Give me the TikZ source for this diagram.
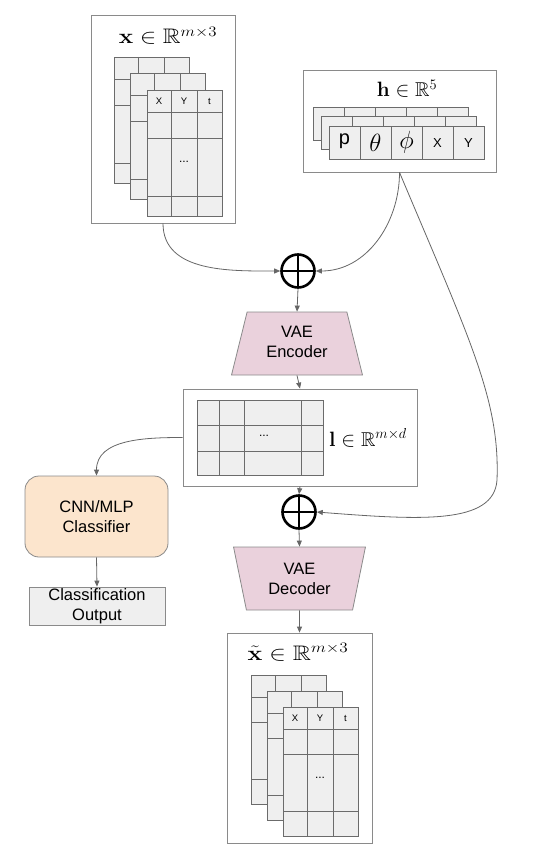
\documentclass[tikz,border=0pt]{standalone}
\usepackage[no-math]{fontspec}
\setmainfont{Liberation Sans}
\usepackage{amsmath,amssymb}
\usetikzlibrary{arrows.meta,shapes.geometric}
\definecolor{cellfill}{HTML}{EFEFEF}
\definecolor{cellline}{HTML}{6B6B6B}
\definecolor{boxline}{HTML}{8A8A8A}
\definecolor{arrgray}{HTML}{666666}
\definecolor{vaefill}{HTML}{EAD1DC}
\definecolor{clsfill}{HTML}{FCE5CD}
\begin{document}
\begin{tikzpicture}[
    x=1pt, y=-1pt,
    frame/.style={rectangle, draw=boxline, fill=white, line width=0.8pt, inner sep=0pt}, % Рамки блоков
    cell/.style={draw=cellline, fill=cellfill, line width=0.8pt}, % Ячейки таблиц
    grid/.style={draw=cellline, line width=0.8pt}, % Линии сетки
    head/.style={inner sep=0pt, font=\fontsize{9.5}{9.5}\selectfont}, % Заголовки столбцов
    title/.style={inner sep=0pt, font=\fontsize{20}{20}\selectfont}, % Формулы
    label/.style={align=center, inner sep=0pt, font=\fontsize{16.5}{20}\selectfont}, % Текст в блоках
    vae/.style={trapezium, draw=boxline, fill=vaefill, line width=0.8pt, trapezium left angle=76.5,
        trapezium right angle=76.5, trapezium stretches=true, minimum width=132pt, minimum height=63pt,
        inner sep=0pt, align=center, font=\fontsize{16.5}{20}\selectfont}, % Кодировщик и декодер
    oplus/.style={circle, draw, line width=2.6pt, minimum size=33pt, inner sep=0pt,
        path picture={\draw[line width=2.6pt] (path picture bounding box.north) -- (path picture bounding box.south)
        (path picture bounding box.west) -- (path picture bounding box.east);}}, % Сумматор
    arr/.style={draw=arrgray, line width=0.8pt, -{Triangle[length=6pt,width=5pt]}} % Стрелки
]
    \useasboundingbox (0,0) rectangle (548,851);

    % Рамки
    \node[frame, minimum width=144pt, minimum height=208pt] (xin) at (163,119) {};
    \node[frame, minimum width=193pt, minimum height=102pt] (hin) at (399.5,121) {};
    \node[frame, minimum width=234pt, minimum height=97pt] (lat) at (300,437.5) {};
    \node[frame, minimum width=145pt, minimum height=210pt] (xout) at (299.5,738) {};

    % Входная траектория x
    \foreach \d in {0,16.5,33} {
        \begin{scope}[shift={(114+\d,57+\d)}]
            \draw[cell] (0,0) rectangle (75,126);
            \foreach \c in {24,50} \draw[grid] (\c,0) -- (\c,126);
            \foreach \r in {22,48,106} \draw[grid] (0,\r) -- (75,\r);
        \end{scope}
    }
    \node[title, font=\fontsize{21}{21}\selectfont] (xlab) at (168,36) {\scalebox{1.17}[1]{$\mathbf{x} \in \mathbb{R}^{m\times 3}$}};
    \node[head] (xX) at (159,101) {X};
    \node[head] (xY) at (184,101) {Y};
    \node[head] (xt) at (209.5,101) {t};
    \node[head, font=\fontsize{12}{12}\selectfont] (xdots) at (184,162) {...};

    % Условие h
    \foreach \dx/\dy in {313/107, 321/116.5, 329/126} {
        \begin{scope}[shift={(\dx,\dy)}]
            \draw[cell] (0,0) rectangle (155,33);
            \foreach \c in {31,62,93,124} \draw[grid] (\c,0) -- (\c,33);
        \end{scope}
    }
    \node[title] (hlab) at (407,89) {$\mathbf{h} \in \mathbb{R}^{5}$};
    \node[head, font=\fontsize{20}{20}\selectfont] (hp) at (344.5,141) {p};
    \node[head, font=\fontsize{24}{24}\selectfont] (hth) at (375.5,142.5) {$\theta$};
    \node[head, font=\fontsize{24}{24}\selectfont] (hphi) at (406.5,142.5) {$\phi$};
    \node[head, font=\fontsize{13}{13}\selectfont] (hx) at (437.5,143) {X};
    \node[head, font=\fontsize{13}{13}\selectfont] (hy) at (468.5,143) {Y};

    % Латентное представление l
    \draw[cell] (197,400) rectangle (323,475);
    \foreach \c in {219,244,301} \draw[grid] (\c,400) -- (\c,475);
    \foreach \r in {425,451} \draw[grid] (197,\r) -- (323,\r);
    \node[head, font=\fontsize{12}{12}\selectfont] (ldots) at (264,436) {...};
    \node[title] (llab) at (368,438) {$\mathbf{l} \in \mathbb{R}^{m\times d}$};

    % Восстановленная траектория
    \foreach \d in {0,16,32} {
        \begin{scope}[shift={(251+\d,675+\d)}]
            \draw[cell] (0,0) rectangle (75,129);
            \foreach \c in {24,50} \draw[grid] (\c,0) -- (\c,129);
            \foreach \r in {22,47,104} \draw[grid] (0,\r) -- (75,\r);
        \end{scope}
    }
    \node[title, font=\fontsize{21}{21}\selectfont] (xtlab) at (298,652) {\scalebox{1.2}[1]{$\tilde{\mathbf{x}} \in \mathbb{R}^{m\times 3}$}};
    \node[head] (tX) at (295,718) {X};
    \node[head] (tY) at (320,718) {Y};
    \node[head] (tt) at (345.5,718) {t};
    \node[head, font=\fontsize{12}{12}\selectfont] (tdots) at (320,778) {...};

    % Сумматоры и VAE
    \node[oplus] (o1) at (298,271) {};
    \node[vae] (enc) at (297,343.5) {\raisebox{-3pt}{\begin{tabular}{@{}c@{}}VAE\\Encoder\end{tabular}}};
    \node[oplus] (o2) at (299,512) {};
    \node[vae, shape border rotate=180] (dec) at (299.5,578.5) {VAE\\Decoder};

    % Классификатор
    \node[label, draw=boxline, fill=clsfill, line width=0.8pt, rounded corners=14pt,
        minimum width=143pt, minimum height=81pt] (cls) at (96.5,516.5) {CNN/MLP\\Classifier};
    \node[label, draw=boxline, fill=cellfill, line width=0.8pt,
        minimum width=136pt, minimum height=38pt] (out) at (97,606) {Classification\\Output};

    % Стрелки
    \draw[arr] (xin.south) to[out=-90, in=180] (o1.west);
    \draw[arr] (hin.south) to[out=-90, in=0] (o1.east);
    \draw[arr] (hin.south) .. controls (470,340) and (500,400) .. (497,480)
        .. controls (494,525) and (420,520) .. (o2.east);
    \draw[arr] (o1.south) -- (enc.north);
    \draw[arr] (enc.south) -- (lat.north);
    \draw[arr] (lat.south) -- (o2.north);
    \draw[arr] (o2.south) -- (dec.north);
    \draw[arr] (dec.south) -- (xout.north);
    \draw[arr] (lat.west) to[out=180, in=90] (cls.north);
    \draw[arr] (cls.south) -- (out.north);

\end{tikzpicture}
\end{document}
